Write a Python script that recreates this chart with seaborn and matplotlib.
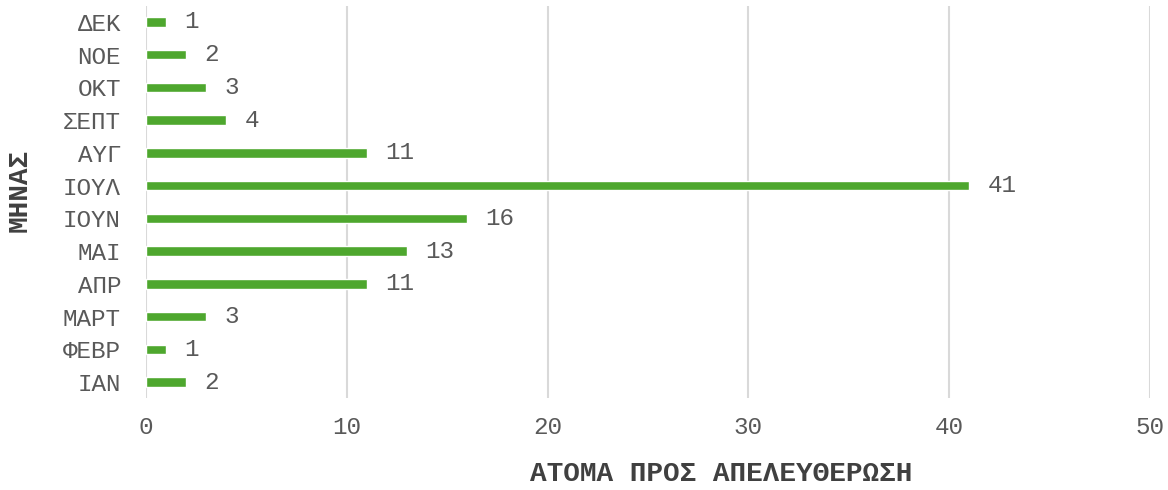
import matplotlib.pyplot as plt
import pandas as pd
import seaborn as sns

# dados do grafico
meses = ["ΙΑΝ", "ΦΕΒΡ", "ΜΑΡΤ", "ΑΠΡ", "ΜΑΙ", "ΙΟΥΝ", "ΙΟΥΛ", "ΑΥΓ", "ΣΕΠΤ", "ΟΚΤ", "ΝΟΕ", "ΔΕΚ"]
atoma = [2, 1, 3, 11, 13, 16, 41, 11, 4, 3, 2, 1]
ticks_x = [0, 10, 20, 30, 40, 50]

df = pd.DataFrame({"mes": meses, "atoma": atoma})

sns.set_style("white")
plt.rcParams["font.family"] = ["Liberation Mono", "DejaVu Sans Mono"]

verde = "#4EA72E"
cinza = "#595959"

fig, ax = plt.subplots(figsize=(11.68, 4.9), dpi=100)
fig.subplots_adjust(left=0.125, right=0.9846, bottom=0.187, top=0.9886)

sns.barplot(
    data=df,
    x="atoma",
    y="mes",
    order=meses[::-1],
    orient="h",
    color=verde,
    width=0.29,
    saturation=1,
    ax=ax,
)

for barra in ax.containers:
    ax.bar_label(barra, padding=13, fontsize=17.5, color=cinza)

ax.set_xlim(0, 50)
ax.set_xticks(ticks_x)
ax.grid(True, axis="x", color="#D9D9D9", linewidth=1.5)
ax.set_axisbelow(True)
for lado in ax.spines.values():
    lado.set_visible(False)

ax.tick_params(axis="both", length=0, labelsize=17.5, labelcolor=cinza)
ax.tick_params(axis="x", pad=13)
ax.tick_params(axis="y", pad=18)

ax.set_xlabel("ΑΤΟΜΑ ΠΡΟΣ ΑΠΕΛΕΥΘΕΡΩΣΗ", fontsize=20, fontweight="bold", color="#404040")
ax.set_ylabel("ΜΗΝΑΣ", fontsize=20, fontweight="bold", color="#404040")
ax.xaxis.set_label_coords(0.573, -0.16)
ax.yaxis.set_label_coords(-0.113, 0.53)

fig.savefig("out.png", dpi=100)
